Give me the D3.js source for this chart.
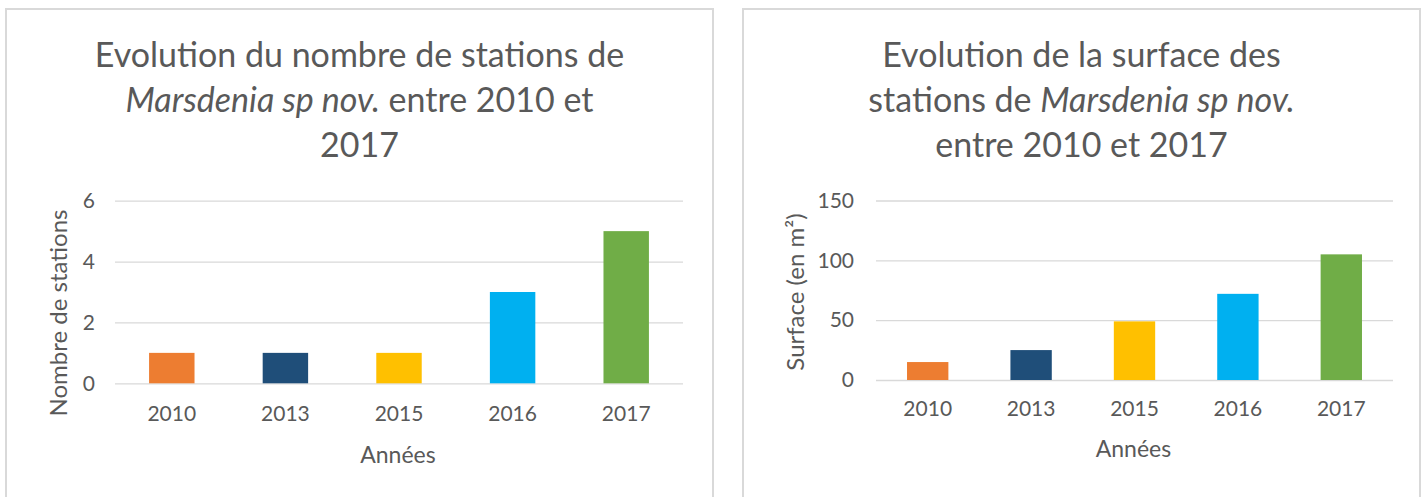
<!DOCTYPE html>
<html><head><meta charset="utf-8">
<script src="https://cdn.jsdelivr.net/npm/d3@7"></script>
<style>
html,body{margin:0;padding:0;background:#fff;}
svg{display:block;}
text{font-family:Lato,"Open Sans",sans-serif;fill:#595959;}
</style></head>
<body>
<svg id="chart" width="1427" height="497"></svg>
<script>
// ---- data ----
const years = ["2010","2013","2015","2016","2017"];
const stationCounts = [1,1,1,3,5];
const stationSurfaces = [15,25,49,72,105];
const barColors = ["#ED7D31","#1F4E79","#FFC000","#00B0F0","#70AD47"];
const ticksCount = [0,2,4,6];
const ticksSurface = [0,50,100,150];
const title1 = [
  [{t:"Evolution du nombre de stations de",i:false}],
  [{t:"Marsdenia sp nov.",i:true},{t:" entre 2010 et",i:false}],
  [{t:"2017",i:false}]
];
const title2 = [
  [{t:"Evolution de la surface des",i:false}],
  [{t:"stations de ",i:false},{t:"Marsdenia sp nov.",i:true}],
  [{t:"entre 2010 et 2017",i:false}]
];
const yLabel1 = "Nombre de stations";
const yLabel2 = "Surface (en m²)";
const xLabel = "Années";

const svg = d3.select("#chart");

function panel(cfg){
  const g = svg.append("g");
  g.append("rect").attr("x",cfg.frame[0]).attr("y",cfg.frame[1])
    .attr("width",cfg.frame[2]).attr("height",cfg.frame[3])
    .attr("fill","#fff").attr("stroke","#D9D9D9").attr("stroke-width",2);
  const cx = cfg.frame[0]+cfg.frame[2]/2;
  cfg.title.forEach((line,k)=>{
    const t = g.append("text").attr("x",cx).attr("y",cfg.titleY + k*cfg.titleLH)
      .attr("text-anchor","middle").style("font-size",cfg.titleSize+"px");
    line.forEach(s=>t.append("tspan").text(s.t).style("font-style",s.i?"italic":"normal"));
  });
  const x = d3.scaleBand().domain(cfg.cats).range([cfg.x0,cfg.x1])
    .paddingInner(0.6).paddingOuter(0.3);
  const y = d3.scaleLinear().domain(cfg.domain).range([cfg.y0,cfg.y1]);
  const ya = g.append("g").attr("transform",`translate(${cfg.x0},0)`)
    .call(d3.axisLeft(y).tickValues(cfg.ticks).tickFormat(d3.format("d"))
      .tickSize(-(cfg.x1-cfg.x0)).tickPadding(cfg.yPad));
  ya.select(".domain").remove();
  ya.selectAll(".tick line").attr("stroke","#D9D9D9").attr("stroke-width",1.3);
  ya.selectAll(".tick text").style("font-size","21px").style("fill","#595959").attr("font-family",null);
  g.selectAll("rect.bar").data(cfg.vals).enter().append("rect").attr("class","bar")
    .attr("x",(d,i)=>x(cfg.cats[i])).attr("width",x.bandwidth())
    .attr("y",d=>y(d)).attr("height",d=>y(0)-y(d))
    .attr("fill",(d,i)=>barColors[i]);
  const xa = g.append("g").attr("transform",`translate(0,${y(0)})`)
    .call(d3.axisBottom(x).tickSize(0).tickPadding(cfg.xPad));
  xa.select(".domain").remove();
  xa.selectAll(".tick text").style("font-size","21px").style("fill","#595959").attr("font-family",null);
  g.append("text").attr("transform",`translate(${cfg.yLabX},${cfg.yLabY}) rotate(-90)`)
    .attr("text-anchor","middle").attr("dy","0.35em").style("font-size","24px").text(cfg.yLabel);
  g.append("text").attr("x",(cfg.x0+cfg.x1)/2 + cfg.xLabDx).attr("y",cfg.xLabY)
    .attr("text-anchor","middle").attr("dy","0.35em").style("font-size","23px").text(xLabel);
}

panel({frame:[6,9,707,500], title:title1, titleY:67, titleLH:45, titleSize:34,
  cats:years, vals:stationCounts, domain:[0,6], ticks:ticksCount,
  x0:115, x1:683, y0:383.3, y1:200.7, yPad:20, xPad:23,
  yLabX:59, yLabY:313, yLabel:yLabel1, xLabY:455, xLabDx:-1});
panel({frame:[743,9,677,500], title:title2, titleY:67, titleLH:45, titleSize:34,
  cats:years, vals:stationSurfaces, domain:[0,150], ticks:ticksSurface,
  x0:876, x1:1393, y0:380, y1:200.5, yPad:22, xPad:21,
  yLabX:796, yLabY:292, yLabel:yLabel2, xLabY:449, xLabDx:-1});
</script>
</body></html>
